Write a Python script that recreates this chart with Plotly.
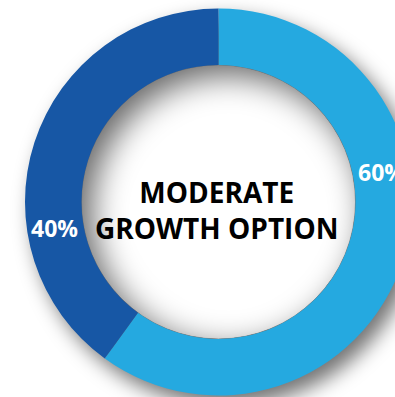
import base64
import plotly.graph_objects as go

# Allocation of the moderate growth option
slice_labels = ["Growth assets", "Defensive assets"]
slice_values = [60, 40]
slice_colors = ["#25a9e0", "#1757a5"]
center_lines = ["MODERATE", "GROWTH OPTION"]

# Canvas and donut geometry (pixels)
W, H = 412, 397
CX, CY = 218.5, 202.0
R_OUT = 193.5
HOLE = 0.708
R_IN = R_OUT * HOLE


def px_x(x):
    return x / W


def px_y(y):
    return 1 - y / H


# Background artwork: drop shadow behind the ring and a recessed, shaded hole
off = 10
svg = f"""<svg xmlns="http://www.w3.org/2000/svg" width="{W}" height="{H}" viewBox="0 0 {W} {H}">
<defs>
<filter id="ds" x="-30%" y="-30%" width="160%" height="160%"><feGaussianBlur stdDeviation="10"/></filter>
<filter id="is" x="-20%" y="-20%" width="140%" height="140%"><feGaussianBlur stdDeviation="16"/></filter>
<clipPath id="hole"><circle cx="{CX}" cy="{CY}" r="{R_IN}"/></clipPath>
</defs>
<rect width="{W}" height="{H}" fill="#ffffff"/>
<circle cx="{CX + 8}" cy="{CY + 10}" r="{R_OUT}" fill="#000" fill-opacity="0.55" filter="url(#ds)"/>
<g clip-path="url(#hole)">
<circle cx="{CX}" cy="{CY}" r="{R_IN}" fill="#ffffff"/>
<path fill="#000" fill-opacity="0.6" fill-rule="evenodd" filter="url(#is)"
 d="M{CX - 320},{CY - 320} h640 v640 h-640 z M{CX + off + R_IN},{CY + off} a{R_IN},{R_IN} 0 1 0 {-2 * R_IN},0 a{R_IN},{R_IN} 0 1 0 {2 * R_IN},0 z"/>
</g>
<circle cx="{CX}" cy="{CY}" r="{R_IN}" fill="none" stroke="#7a7a7a" stroke-opacity="0.6" stroke-width="1"/>
</svg>"""
svg_uri = "data:image/svg+xml;base64," + base64.b64encode(svg.encode()).decode()

fig = go.Figure(
    go.Pie(
        labels=slice_labels,
        values=slice_values,
        hole=HOLE,
        sort=False,
        direction="clockwise",
        rotation=0,
        marker=dict(colors=slice_colors, line=dict(width=0)),
        textinfo="none",
        hoverinfo="skip",
        showlegend=False,
        domain=dict(
            x=[px_x(CX - R_OUT), px_x(CX + R_OUT)],
            y=[px_y(CY + R_OUT), px_y(CY - R_OUT)],
        ),
    )
)

fig.add_layout_image(
    source=svg_uri, xref="paper", yref="paper", x=0, y=1,
    sizex=1, sizey=1, xanchor="left", yanchor="top",
    sizing="stretch", layer="below",
)

label_font = dict(family="Open Sans", size=23, color="#ffffff", weight="bold")
# percentage labels sit in the ring
fig.add_annotation(x=px_x(356), y=px_y(171.5), text=f"{slice_values[0]}%",
                   showarrow=False, font=label_font, xanchor="left", yanchor="middle")
fig.add_annotation(x=px_x(54), y=px_y(228), text=f"{slice_values[1]}%",
                   showarrow=False, font=label_font, xanchor="center", yanchor="middle")

title_font = dict(family="Open Sans", size=28, color="#000000", weight="bold")
fig.add_annotation(x=px_x(216.5), y=px_y(210), text="<br>".join(center_lines),
                   showarrow=False, font=title_font, align="center",
                   xanchor="center", yanchor="middle")

fig.update_layout(
    width=W, height=H,
    margin=dict(l=0, r=0, t=0, b=0),
    paper_bgcolor="#ffffff",
    plot_bgcolor="#ffffff",
)

fig.write_html("out.html", config={"displayModeBar": False})
